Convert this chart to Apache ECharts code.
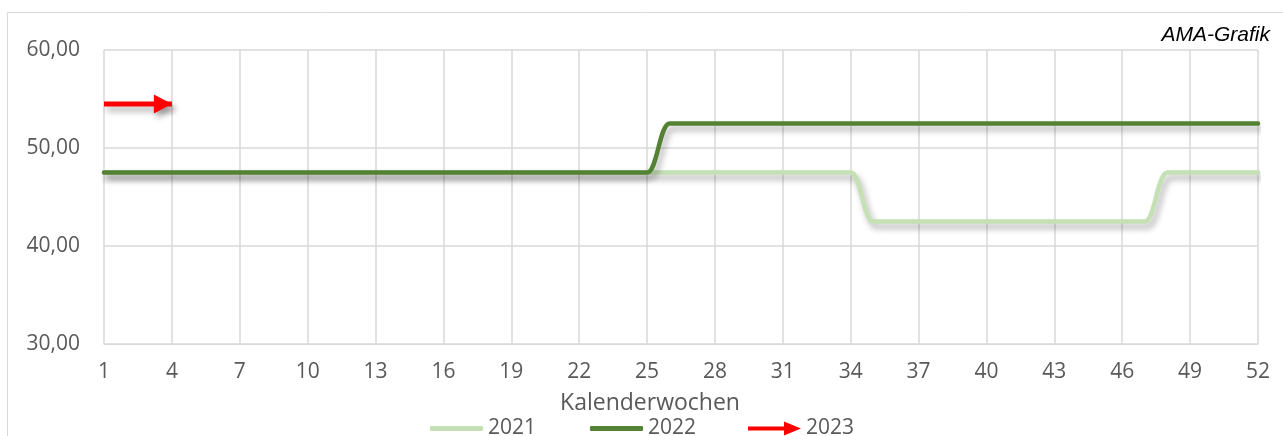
<!DOCTYPE html>
<html>
<head>
<meta charset="utf-8">
<script src="https://cdn.jsdelivr.net/npm/echarts@6/dist/echarts.min.js"></script>
<style>
  html, body { margin: 0; padding: 0; background: #fff; }
  #main { width: 1283px; height: 436px; }
</style>
</head>
<body>
<div id="main"></div>
<script>
var chartDom = document.getElementById('main')
var myChart = echarts.init(chartDom)

// Kalenderwochen 1..52
var weeks = ['1','2','3','4','5','6','7','8','9','10','11','12','13','14','15','16','17','18','19','20',
  '21','22','23','24','25','26','27','28','29','30','31','32','33','34','35','36','37','38','39','40',
  '41','42','43','44','45','46','47','48','49','50','51','52']

var data2021 = [47.5,47.5,47.5,47.5,47.5,47.5,47.5,47.5,47.5,47.5,47.5,47.5,47.5,47.5,47.5,47.5,47.5,
  47.5,47.5,47.5,47.5,47.5,47.5,47.5,47.5,47.5,47.5,47.5,47.5,47.5,47.5,47.5,47.5,47.5,
  42.5,42.5,42.5,42.5,42.5,42.5,42.5,42.5,42.5,42.5,42.5,42.5,42.5,
  47.5,47.5,47.5,47.5,47.5]

var data2022 = [47.5,47.5,47.5,47.5,47.5,47.5,47.5,47.5,47.5,47.5,47.5,47.5,47.5,47.5,47.5,47.5,47.5,
  47.5,47.5,47.5,47.5,47.5,47.5,47.5,47.5,
  52.5,52.5,52.5,52.5,52.5,52.5,52.5,52.5,52.5,52.5,52.5,52.5,52.5,52.5,52.5,52.5,52.5,52.5,52.5,
  52.5,52.5,52.5,52.5,52.5,52.5,52.5,52.5]

var data2023 = [54.5,54.5,54.5,54.5]

var textColor = '#595959'
var gridColor = '#d9d9d9'
var font = 'Open Sans'
var fmt = v => v.toFixed(2).replace('.', ',')

var shadow = {
  shadowColor: 'rgba(0,0,0,0.3)',
  shadowBlur: 6,
  shadowOffsetX: 3,
  shadowOffsetY: 5
}

// arrow head on the last point of 2023
var arrowData = data2023.map((v, i) => i === data2023.length - 1
  ? { value: v, symbol: 'triangle', symbolSize: [19, 18], symbolRotate: -90, symbolOffset: [-9, 0] }
  : { value: v, symbol: 'none' })

var legendText = { color: textColor, fontSize: 21, fontFamily: font }
var legendBase = { top: 418, padding: 0, itemWidth: 53, itemHeight: 5, itemGap: 0, textStyle: legendText }

var option = {
  animation: false,
  graphic: [{
    type: 'rect',
    shape: { x: 7.5, y: 12.5, width: 1300, height: 440 },
    style: { fill: 'none', stroke: gridColor, lineWidth: 1 },
    silent: true
  }, {
    type: 'text',
    right: 13,
    top: 25,
    style: { text: 'AMA-Grafik', fontSize: 21, fontStyle: 'italic', fontFamily: 'Liberation Sans', fill: '#000' }
  }],
  grid: { left: 104, right: 25, top: 50, bottom: 92 },
  legend: [
    Object.assign({ data: [{ name: '2021', icon: 'roundRect' }], left: 430 }, legendBase),
    Object.assign({ data: [{ name: '2022', icon: 'roundRect' }], left: 590 }, legendBase),
    Object.assign({}, legendBase, {
      data: [{ name: '2023', icon: 'path://M0,5 L36,5 L36,0 L53,7 L36,14 L36,9 L0,9 Z' }],
      left: 748, itemHeight: 14
    })
  ],
  xAxis: {
    type: 'category',
    data: weeks,
    boundaryGap: false,
    name: 'Kalenderwochen',
    nameLocation: 'middle',
    nameGap: 48,
    nameTextStyle: { color: textColor, fontSize: 23, fontFamily: font, padding: [0, 62, 0, 0] },
    axisLine: { lineStyle: { color: gridColor, width: 1 } },
    axisTick: { show: false },
    axisLabel: { interval: 2, color: textColor, fontSize: 21, fontFamily: font, margin: 18 },
    splitLine: { show: true, interval: 2, lineStyle: { color: gridColor, width: 1.5 } }
  },
  yAxis: {
    type: 'value',
    min: 30,
    max: 60,
    interval: 10,
    axisLine: { show: false },
    axisTick: { show: false },
    axisLabel: { formatter: fmt, color: textColor, fontSize: 21, fontFamily: font, margin: 24 },
    splitLine: { lineStyle: { color: gridColor, width: 1.5 } }
  },
  series: [
    {
      name: '2021',
      type: 'line',
      data: data2021,
      smooth: 0.45,
      smoothMonotone: 'x',
      symbol: 'none',
      z: 2,
      itemStyle: { color: '#c5e0b4' },
      lineStyle: Object.assign({ color: '#c5e0b4', width: 4.5, cap: 'round' }, shadow)
    },
    {
      name: '2022',
      type: 'line',
      data: data2022,
      smooth: 0.45,
      smoothMonotone: 'x',
      symbol: 'none',
      z: 3,
      itemStyle: { color: '#548235' },
      lineStyle: Object.assign({ color: '#548235', width: 4.5, cap: 'round' }, shadow)
    },
    {
      name: '2023',
      type: 'line',
      data: arrowData,
      symbol: 'none',
      showAllSymbol: true,
      z: 4,
      itemStyle: Object.assign({ color: '#ff0000' }, shadow),
      lineStyle: Object.assign({ color: '#ff0000', width: 5 }, shadow)
    }
  ]
}

myChart.setOption(option)
</script>
</body>
</html>
